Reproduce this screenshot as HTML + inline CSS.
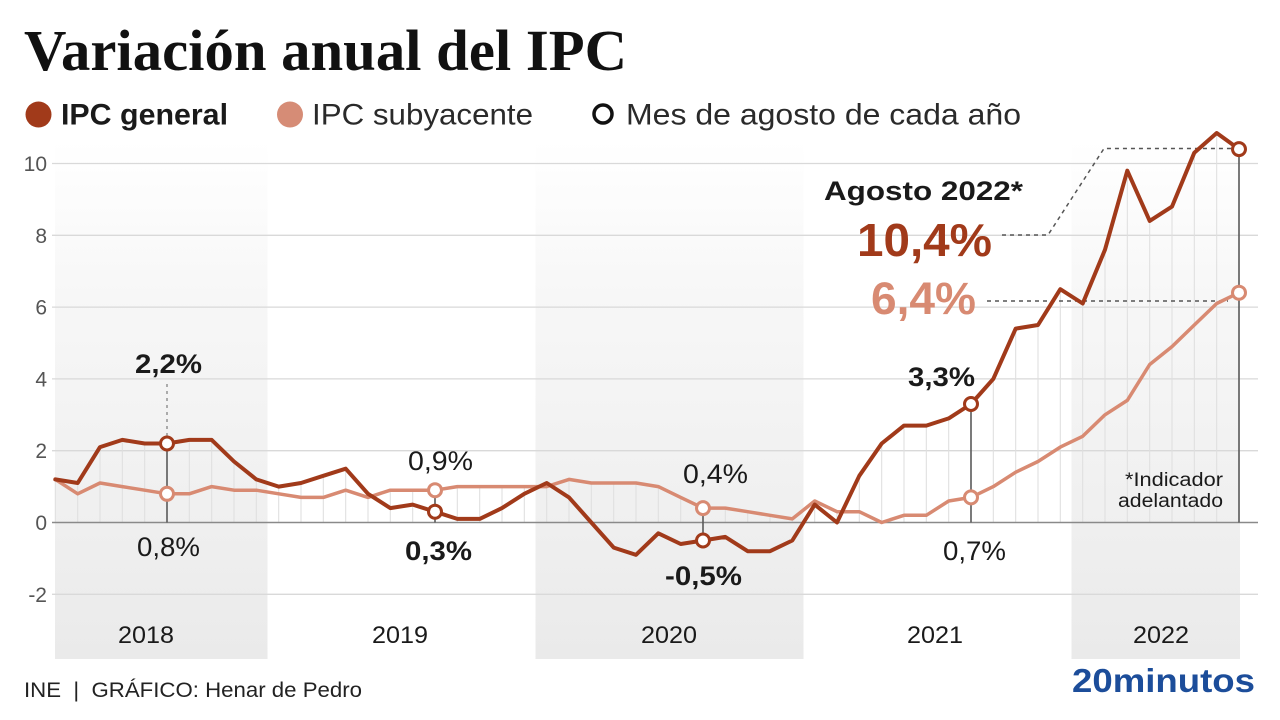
<!DOCTYPE html>
<html>
<head>
<meta charset="utf-8">
<style>
html,body{margin:0;padding:0;background:#fff;}
svg{display:block;}
text{font-family:"Liberation Sans",Arial,sans-serif;}
</style>
</head>
<body>
<svg width="1280" height="720" viewBox="0 0 1280 720" xmlns="http://www.w3.org/2000/svg">
<defs>
<linearGradient id="bg" x1="0" y1="140" x2="0" y2="659" gradientUnits="userSpaceOnUse">
<stop offset="0" stop-color="#ffffff"/>
<stop offset="0.3" stop-color="#f7f7f7"/>
<stop offset="0.7" stop-color="#f0f0f0"/>
<stop offset="1" stop-color="#eaeaea"/>
</linearGradient>
</defs>
<rect width="1280" height="720" fill="#fff"/>

<!-- Title -->
<text x="24" y="70" font-family="'Liberation Serif',serif" font-weight="bold" font-size="58" fill="#111" textLength="603" lengthAdjust="spacingAndGlyphs" style="font-family:'Liberation Serif',serif">Variación anual del IPC</text>

<!-- Legend -->
<circle cx="38.5" cy="114.5" r="13" fill="#a13a1a"/>
<text x="61" y="124.5" font-size="30" font-weight="bold" fill="#1a1a1a" textLength="167" lengthAdjust="spacingAndGlyphs">IPC general</text>
<circle cx="290" cy="114.5" r="13" fill="#d68c76"/>
<text x="312" y="124.5" font-size="30" fill="#2a2a2a" textLength="221" lengthAdjust="spacingAndGlyphs">IPC subyacente</text>
<circle cx="603" cy="114" r="9" fill="#fff" stroke="#111" stroke-width="3.5"/>
<text x="626" y="124.5" font-size="30" fill="#2a2a2a" textLength="395" lengthAdjust="spacingAndGlyphs">Mes de agosto de cada año</text>

<!-- Year bands -->
<rect x="55" y="140" width="212.5" height="519" fill="url(#bg)"/>
<rect x="535.5" y="140" width="268" height="519" fill="url(#bg)"/>
<rect x="1071.5" y="140" width="168.5" height="519" fill="url(#bg)"/>

<!-- Gridlines -->
<g stroke="#d9d9d9" stroke-width="1.3">
<line x1="52" y1="163.5" x2="1258" y2="163.5"/>
<line x1="52" y1="235.3" x2="1258" y2="235.3"/>
<line x1="52" y1="307.1" x2="1258" y2="307.1"/>
<line x1="52" y1="378.9" x2="1258" y2="378.9"/>
<line x1="52" y1="450.7" x2="1258" y2="450.7"/>
<line x1="52" y1="594.3" x2="1258" y2="594.3"/>
</g>

<!-- Y labels -->
<g font-size="21" fill="#555" text-anchor="end">
<text x="47" y="171">10</text>
<text x="47" y="243">8</text>
<text x="47" y="314.5">6</text>
<text x="47" y="386.5">4</text>
<text x="47" y="458">2</text>
<text x="47" y="530">0</text>
<text x="47" y="602">-2</text>
</g>

<!-- monthly faint lines -->
<path d="M55.3 522.5V479.4M77.7 522.5V483.0M100 522.5V447.1M122.3 522.5V439.9M144.7 522.5V443.5M189.3 522.5V439.9M211.7 522.5V439.9M234 522.5V461.5M256.3 522.5V479.4M278.7 522.5V486.6M301 522.5V483M323.3 522.5V475.8M345.7 522.5V468.7M368 522.5V493.8M390.3 522.5V490.2M412.7 522.5V490.2M457.3 522.5V486.6M479.7 522.5V486.6M502 522.5V486.6M524.3 522.5V486.6M546.7 522.5V483M569 522.5V479.4M591.3 522.5V483M613.7 522.5V483M636 522.5V483M658.3 522.5V486.6M680.7 522.5V497.4M725.3 522.5V508.1M747.7 522.5V511.7M770 522.5V515.3M792.3 522.5V518.9M814.7 522.5V501M837 522.5V511.7M859.3 522.5V475.8M881.7 522.5V443.5M904 522.5V425.6M926.3 522.5V425.6M948.7 522.5V418.4M993.3 522.5V378.9M1015.7 522.5V328.6M1038 522.5V325M1060.3 522.5V289.2M1082.7 522.5V303.5M1105 522.5V249.7M1127.3 522.5V170.7M1149.7 522.5V220.9M1172 522.5V206.6M1194.3 522.5V152.7M1216.7 522.5V133" stroke="#dedede" stroke-width="1" fill="none"/>

<!-- zero line -->
<line x1="52" y1="522.5" x2="1258" y2="522.5" stroke="#8a8a8a" stroke-width="1.6"/>

<!-- August vertical lines -->
<path d="M167 522.5V443.5M435 522.5V490.2M703 540.5V508.1M971 522.5V404M1239 522.5V149.1" stroke="#5a5a5a" stroke-width="1.6" fill="none"/>
<path d="M167 436V384" stroke="#999" stroke-width="1.6" stroke-dasharray="3,4" fill="none"/>

<!-- dashed connectors -->
<path d="M1002 235H1048L1104 148.5H1232" stroke="#555" stroke-width="1.5" stroke-dasharray="4,4" fill="none"/>
<path d="M987 301H1228" stroke="#555" stroke-width="1.5" stroke-dasharray="4,4" fill="none"/>

<!-- core line -->
<polyline fill="none" stroke="#d88a72" stroke-width="3.5" stroke-linejoin="round" stroke-linecap="round" points="55.3,479.4 77.7,493.8 100.0,483.0 122.3,486.6 144.7,490.2 167.0,493.8 189.3,493.8 211.7,486.6 234.0,490.2 256.3,490.2 278.7,493.8 301.0,497.4 323.3,497.4 345.7,490.2 368.0,497.4 390.3,490.2 412.7,490.2 435.0,490.2 457.3,486.6 479.7,486.6 502.0,486.6 524.3,486.6 546.7,486.6 569.0,479.4 591.3,483.0 613.7,483.0 636.0,483.0 658.3,486.6 680.7,497.4 703.0,508.1 725.3,508.1 747.7,511.7 770.0,515.3 792.3,518.9 814.7,501.0 837.0,511.7 859.3,511.7 881.7,522.5 904.0,515.3 926.3,515.3 948.7,501.0 971.0,497.4 993.3,486.6 1015.7,472.2 1038.0,461.5 1060.3,447.1 1082.7,436.3 1105.0,414.8 1127.3,400.4 1149.7,364.5 1172.0,346.6 1194.3,325.0 1216.7,303.5 1239.0,292.7"/>

<!-- general line -->
<polyline fill="none" stroke="#a13a1a" stroke-width="4" stroke-linejoin="round" stroke-linecap="round" points="55.3,479.4 77.7,483.0 100.0,447.1 122.3,439.9 144.7,443.5 167.0,443.5 189.3,439.9 211.7,439.9 234.0,461.5 256.3,479.4 278.7,486.6 301.0,483.0 323.3,475.8 345.7,468.7 368.0,493.8 390.3,508.1 412.7,504.6 435.0,511.7 457.3,518.9 479.7,518.9 502.0,508.1 524.3,493.8 546.7,483.0 569.0,497.4 591.3,522.5 613.7,547.6 636.0,554.8 658.3,533.3 680.7,544.0 703.0,540.5 725.3,536.9 747.7,551.2 770.0,551.2 792.3,540.5 814.7,504.6 837.0,522.5 859.3,475.8 881.7,443.5 904.0,425.6 926.3,425.6 948.7,418.4 971.0,404.0 993.3,378.9 1015.7,328.6 1038.0,325.0 1060.3,289.2 1082.7,303.5 1105.0,249.7 1127.3,170.7 1149.7,220.9 1172.0,206.6 1194.3,152.7 1216.7,133.0 1239.0,149.1"/>

<!-- markers -->
<g fill="#fff" stroke-width="3">
<circle cx="167" cy="493.8" r="6.5" stroke="#d88a72"/>
<circle cx="435" cy="490.2" r="6.5" stroke="#d88a72"/>
<circle cx="703" cy="508.1" r="6.5" stroke="#d88a72"/>
<circle cx="971" cy="497.4" r="6.5" stroke="#d88a72"/>
<circle cx="1239" cy="292.7" r="6.5" stroke="#d88a72"/>
<circle cx="167" cy="443.5" r="6.5" stroke="#a13a1a"/>
<circle cx="435" cy="511.7" r="6.5" stroke="#a13a1a"/>
<circle cx="703" cy="540.5" r="6.5" stroke="#a13a1a"/>
<circle cx="971" cy="404" r="6.5" stroke="#a13a1a"/>
<circle cx="1239" cy="149.1" r="6.5" stroke="#a13a1a"/>
</g>

<!-- annotations -->
<g font-size="27" fill="#1a1a1a" text-anchor="middle">
<text x="168.5" y="373" font-weight="bold" textLength="67" lengthAdjust="spacingAndGlyphs">2,2%</text>
<text x="168.5" y="556" textLength="63" lengthAdjust="spacingAndGlyphs">0,8%</text>
<text x="440.5" y="470" textLength="65" lengthAdjust="spacingAndGlyphs">0,9%</text>
<text x="438.5" y="560" font-weight="bold" textLength="67" lengthAdjust="spacingAndGlyphs">0,3%</text>
<text x="715.5" y="483" textLength="65" lengthAdjust="spacingAndGlyphs">0,4%</text>
<text x="703.5" y="585" font-weight="bold" textLength="77" lengthAdjust="spacingAndGlyphs">-0,5%</text>
<text x="941.5" y="386" font-weight="bold" textLength="67" lengthAdjust="spacingAndGlyphs">3,3%</text>
<text x="974.5" y="560" textLength="63" lengthAdjust="spacingAndGlyphs">0,7%</text>
</g>

<text x="824" y="200" font-size="27" font-weight="bold" fill="#1a1a1a" textLength="199" lengthAdjust="spacingAndGlyphs">Agosto 2022*</text>
<text x="857" y="256" font-size="46" font-weight="bold" fill="#a13a1a" textLength="135" lengthAdjust="spacingAndGlyphs">10,4%</text>
<text x="871" y="314" font-size="45" font-weight="bold" fill="#d88a72" textLength="105" lengthAdjust="spacingAndGlyphs">6,4%</text>

<g font-size="19" fill="#1a1a1a" text-anchor="end">
<text x="1223" y="486" textLength="98" lengthAdjust="spacingAndGlyphs">*Indicador</text>
<text x="1223" y="507" textLength="105" lengthAdjust="spacingAndGlyphs">adelantado</text>
</g>

<!-- year labels -->
<g font-size="24" fill="#1a1a1a" text-anchor="middle">
<text x="146" y="643" textLength="56" lengthAdjust="spacingAndGlyphs">2018</text>
<text x="400" y="643" textLength="56" lengthAdjust="spacingAndGlyphs">2019</text>
<text x="669" y="643" textLength="56" lengthAdjust="spacingAndGlyphs">2020</text>
<text x="935" y="643" textLength="56" lengthAdjust="spacingAndGlyphs">2021</text>
<text x="1161" y="643" textLength="56" lengthAdjust="spacingAndGlyphs">2022</text>
</g>

<!-- footer -->
<text x="24" y="697" font-size="21" fill="#222" textLength="338" lengthAdjust="spacingAndGlyphs" xml:space="preserve">INE  |  GRÁFICO: Henar de Pedro</text>
<text x="1072" y="692" font-size="33" font-weight="bold" fill="#1c4d9a" textLength="183" lengthAdjust="spacingAndGlyphs">20minutos</text>
</svg>
</body>
</html>
